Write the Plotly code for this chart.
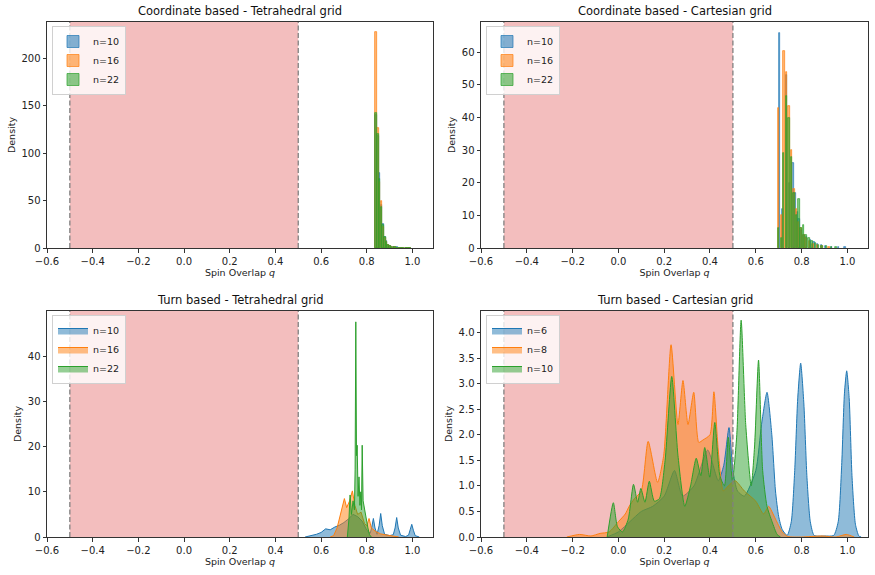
import plotly.graph_objects as go

# ---------------- data ----------------
series_top = ["n=10", "n=16", "n=22"]
series_p4 = ["n=6", "n=8", "n=10"]

# Panel 1: Coordinate based - Tetrahedral grid (histogram, common bins)
p1_bin_centers = [0.8415, 0.849, 0.8565, 0.864, 0.8715, 0.879, 0.8865, 0.894, 0.9015, 0.909,
                  0.9165, 0.924, 0.9315, 0.939, 0.9465, 0.954, 0.9615, 0.969, 0.9765, 0.984, 0.9915]
p1_n10 = [140, 118, 79, 45, 25, 12, 7, 3.5, 2, 1.5, 1, 0.8, 0.6, 0.5, 0.4, 0.3, 0.3, 0.2, 0.2, 0.1, 0.1]
p1_n16 = [227, 126, 70, 49, 22, 11, 6, 3, 1.8, 1.2, 0.8, 0.6, 0.5, 0.4, 0.3, 0.2, 0.2, 0.1, 0.1, 0.1, 0]
p1_n22 = [142, 120, 73, 43, 24, 12, 6.5, 3.2, 1.6, 1.2, 0.8, 0.6, 0.5, 0.4, 0.3, 0.2, 0.2, 0.1, 0.1, 0.1, 0.1]

# Panel 2: Coordinate based - Cartesian grid (histogram)
p2_n10_q = [0.703, 0.717, 0.733, 0.748, 0.762, 0.771, 0.781, 0.789, 0.800, 0.810, 0.822, 0.838,
            0.854, 0.870, 0.886, 0.905, 0.930, 0.960, 0.990]
p2_n10 = [66, 12, 53, 20, 26, 17, 11, 9, 5.5, 4, 3.5, 2.5, 1.8, 1.2, 0.8, 0.6, 0.4, 0.3, 0.2]
p2_n16_q = [0.700, 0.712, 0.723, 0.735, 0.745, 0.756, 0.766, 0.777, 0.787, 0.798, 0.810, 0.820,
            0.835, 0.850, 0.870, 0.890, 0.920]
p2_n16 = [43, 10, 60.5, 54, 43.5, 30, 18, 12, 8, 6, 4, 3, 2, 1.2, 0.8, 0.5, 0.3]
p2_n22_q = [0.700, 0.711, 0.722, 0.733, 0.745, 0.756, 0.766, 0.777, 0.788, 0.798, 0.808, 0.820,
            0.832, 0.845, 0.860, 0.875, 0.890, 0.910, 0.930, 0.950]
p2_n22 = [6, 3, 29, 46.6, 40, 28, 17, 10, 15, 6, 7, 4, 3, 2, 1.5, 1, 0.7, 0.5, 0.3, 0.2]

# Panel 3: Turn based - Tetrahedral grid (KDE)
p3_n10_q = [0.53, 0.56, 0.58, 0.60, 0.62, 0.64, 0.66, 0.68, 0.70, 0.72, 0.74, 0.76, 0.78, 0.80,
            0.815, 0.822, 0.829, 0.836, 0.845, 0.854, 0.861, 0.868, 0.878, 0.90, 0.916, 0.924,
            0.931, 0.938, 0.948, 0.97, 0.983, 0.990, 0.997, 1.004, 1.012, 1.03]
p3_n10 = [0, 0.3, 0.6, 1.0, 1.8, 1.6, 2.2, 2.6, 3.2, 4.0, 5.0, 4.5, 3.5, 1.5,
          0.8, 2.2, 4.1, 2.0, 0.6, 2.5, 5.2, 2.5, 0.6, 0.3, 0.5, 2.0,
          4.3, 2.0, 0.4, 0.1, 0.4, 1.6, 2.8, 1.5, 0.3, 0]
p3_n16_q = [0.64, 0.655, 0.67, 0.685, 0.702, 0.712, 0.725, 0.737, 0.748, 0.76, 0.775, 0.79, 0.80,
            0.81, 0.82, 0.84, 0.86, 0.88, 0.90, 0.92, 0.94]
p3_n16 = [0, 0.3, 2.0, 5.0, 8.5, 6.5, 8.0, 10.2, 7.0, 5.0, 5.5, 3.0, 2.5,
          4.1, 2.0, 1.2, 0.7, 0.5, 0.3, 0.1, 0]
p3_n22_q = [0.715, 0.722, 0.727, 0.733, 0.74, 0.746, 0.749, 0.752, 0.755, 0.758, 0.762, 0.766,
            0.77, 0.774, 0.777, 0.78, 0.784, 0.79, 0.797, 0.805, 0.812, 0.82]
p3_n22 = [0, 4, 9.3, 5, 8, 6, 15, 47.6, 18, 20.3, 9, 13.3,
          7, 10, 6, 20.3, 8, 6, 4, 2, 0.5, 0]

# Panel 4: Turn based - Cartesian grid (KDE)
p4_n6_q = [-0.05, 0.0, 0.05, 0.10, 0.15, 0.20, 0.245, 0.28, 0.33, 0.39, 0.436, 0.46, 0.483, 0.50,
           0.52, 0.55, 0.60, 0.625, 0.649, 0.67, 0.686, 0.70, 0.715, 0.737, 0.755, 0.77, 0.783,
           0.796, 0.81, 0.823, 0.838, 0.855, 0.90, 0.94, 0.96, 0.975, 0.987, 0.997, 1.008, 1.02,
           1.035, 1.05, 1.06]
p4_n6 = [0, 0.1, 0.3, 0.5, 0.6, 0.8, 1.3, 0.8, 1.0, 1.7, 1.1, 1.4, 2.14, 1.3,
         0.9, 0.8, 1.3, 2.2, 2.83, 2.0, 0.9, 0.4, 0.15, 0.03, 0.3, 1.3, 2.7,
         3.4, 2.6, 1.2, 0.3, 0.03, 0.02, 0.03, 0.3, 1.4, 2.8, 3.25, 2.7, 1.2,
         0.25, 0.02, 0]
p4_n8_q = [-0.225, -0.17, -0.12, -0.08, -0.04, 0.0, 0.03, 0.047, 0.07, 0.10, 0.13, 0.171, 0.198,
           0.23, 0.26, 0.282, 0.304, 0.329, 0.351, 0.37, 0.40, 0.417, 0.436, 0.458, 0.48, 0.51,
           0.55, 0.60, 0.634, 0.656, 0.686, 0.715, 0.74, 0.80, 0.89, 0.95, 0.995, 1.03]
p4_n8 = [0, 0.05, 0.02, 0.07, 0.1, 0.3, 0.45, 0.6, 0.75, 0.9, 1.87, 1.07, 1.6,
         3.76, 2.2, 3.06, 2.2, 2.83, 1.85, 1.9, 2.0, 2.84, 1.7, 0.9, 1.0, 1.1,
         0.9, 0.7, 0.45, 0.6, 0.35, 0.1, 0.01, 0, 0.02, 0, 0.05, 0]
p4_n10_q = [-0.049, -0.022, -0.004, 0.018, 0.043, 0.066, 0.084, 0.098, 0.116, 0.135, 0.157, 0.179,
            0.204, 0.233, 0.26, 0.29, 0.315, 0.34, 0.36, 0.377, 0.399, 0.421, 0.443, 0.463, 0.48,
            0.498, 0.517, 0.536, 0.556, 0.58, 0.595, 0.612, 0.63, 0.649, 0.671, 0.693, 0.708]
p4_n10 = [0, 0.67, 0.2, 0.1, 0.35, 1.03, 0.68, 0.95, 0.68, 1.09, 0.7, 0.75,
          1.5, 3.14, 1.6, 0.6, 1.0, 1.54, 1.2, 1.75, 1.17, 2.24, 1.2, 1.0, 1.95,
          1.1, 2.0, 4.24, 2.2, 1.0, 1.8, 3.46, 1.3, 0.6, 0.3, 0.05, 0]

x_ticks = [-0.6, -0.4, -0.2, 0.0, 0.2, 0.4, 0.6, 0.8, 1.0]
x_ticktext = ["\u22120.6", "\u22120.4", "\u22120.2", "0.0", "0.2", "0.4", "0.6", "0.8", "1.0"]
titles = ["Coordinate based - Tetrahedral grid", "Coordinate based - Cartesian grid",
          "Turn based - Tetrahedral grid", "Turn based - Cartesian grid"]

# ---------------- style ----------------
W, H = 875, 575
COLORS = ["#1f77b4", "#ff7f0e", "#2ca02c"]
FONT = "DejaVu Sans"


def rgba(hexc, a):
    h = hexc.lstrip("#")
    r, g, b = int(h[0:2], 16), int(h[2:4], 16), int(h[4:6], 16)
    return f"rgba({r},{g},{b},{a})"


# pixel boxes (left, right, top, bottom)
boxes = [(47, 433, 22, 248), (481, 868, 22, 248), (47, 433, 311, 537), (481, 868, 311, 537)]
yranges = [[0, 238], [0, 69.3], [0, 50], [0, 4.42]]
yticks = [[0, 50, 100, 150, 200], [0, 10, 20, 30, 40, 50, 60], [0, 10, 20, 30, 40],
          [0, 0.5, 1.0, 1.5, 2.0, 2.5, 3.0, 3.5, 4.0]]
yfmt = ["d", "d", "d", ".1f"]

fig = go.Figure()

legend_names = ["legend", "legend2", "legend3", "legend4"]


def add_bars(qs, vals, name, color, i, width):
    n = i + 1
    fig.add_trace(go.Bar(
        x=qs, y=vals, width=width, name=name,
        marker=dict(color=rgba(color, 0.55), line=dict(color=color, width=0.7)),
        xaxis="x" if n == 1 else f"x{n}", yaxis="y" if n == 1 else f"y{n}",
        legend=legend_names[i], hoverinfo="skip"))


def add_kde(qs, vals, name, color, i, shape):
    n = i + 1
    fig.add_trace(go.Scatter(
        x=qs, y=vals, name=name, mode="lines", fill="tozeroy",
        line=dict(color=color, width=1, shape=shape, smoothing=0.6) if shape == "spline"
        else dict(color=color, width=1, shape=shape),
        fillcolor=rgba(color, 0.5),
        xaxis="x" if n == 1 else f"x{n}", yaxis="y" if n == 1 else f"y{n}",
        legend=legend_names[i], hoverinfo="skip"))


# panel 1
for vals, nm, c in zip([p1_n10, p1_n16, p1_n22], series_top, COLORS):
    add_bars(p1_bin_centers, vals, nm, c, 0, 0.0072)
# panel 2
for qs, vals, nm, c in zip([p2_n10_q, p2_n16_q, p2_n22_q], [p2_n10, p2_n16, p2_n22], series_top, COLORS):
    add_bars(qs, vals, nm, c, 1, 0.0062)
# panel 3
for qs, vals, nm, c in zip([p3_n10_q, p3_n16_q, p3_n22_q], [p3_n10, p3_n16, p3_n22], series_top, COLORS):
    add_kde(qs, vals, nm, c, 2, "linear")
# panel 4
for qs, vals, nm, c in zip([p4_n6_q, p4_n8_q, p4_n10_q], [p4_n6, p4_n8, p4_n10], series_p4, COLORS):
    add_kde(qs, vals, nm, c, 3, "spline")

layout = dict(
    width=W, height=H, margin=dict(l=0, r=0, t=0, b=0, autoexpand=False),
    paper_bgcolor="white", plot_bgcolor="white",
    font=dict(family=FONT, size=10, color="#222"),
    barmode="overlay", bargap=0,
    showlegend=True,
)

shapes = []
annotations = []
for i, (l, r, t, b) in enumerate(boxes):
    n = i + 1
    xs = "" if n == 1 else str(n)
    xd = [l / W, r / W]
    yd = [1 - b / H, 1 - t / H]
    layout[f"xaxis{xs}"] = dict(
        domain=xd, anchor=f"y{xs}", range=[-0.6, 1.09], automargin=False,
        tickvals=x_ticks, ticktext=x_ticktext,
        showline=True, linecolor="#333", linewidth=1, mirror=True,
        ticks="outside", ticklen=3.5, tickwidth=0.8, tickcolor="#333",
        showgrid=False, zeroline=False, tickfont=dict(size=10),
        title=dict(text="Spin Overlap <i>q</i>", font=dict(size=9.5), standoff=3))
    layout[f"yaxis{xs}"] = dict(
        domain=yd, anchor=f"x{xs}", range=yranges[i], automargin=False,
        tickvals=yticks[i], tickformat=yfmt[i],
        showline=True, linecolor="#333", linewidth=1, mirror=True,
        ticks="outside", ticklen=3.5, tickwidth=0.8, tickcolor="#333",
        showgrid=False, zeroline=False, tickfont=dict(size=10),
        title=dict(text="Density", font=dict(size=9.5), standoff=4))
    xref = f"x{xs}"
    ydom = f"y{xs} domain"
    shapes.append(dict(type="rect", xref=xref, yref=ydom, x0=-0.5, x1=0.5, y0=0, y1=1,
                       fillcolor="rgba(214,39,40,0.3)", line=dict(width=0), layer="below"))
    for xv in (-0.5, 0.5):
        shapes.append(dict(type="line", xref=xref, yref=ydom, x0=xv, x1=xv, y0=0, y1=1,
                           line=dict(color="#808080", width=1.3, dash="5px,2.5px"), layer="above"))
    annotations.append(dict(text=titles[i], xref="paper", yref="paper",
                            x=(xd[0] + xd[1]) / 2, y=yd[1], xanchor="center", yanchor="bottom",
                            yshift=2, showarrow=False, font=dict(size=11.5, color="#111")))
    layout[legend_names[i]] = dict(
        x=(l + 5) / W, y=1 - (t + 4) / H, xanchor="left", yanchor="top",
        xref="paper", yref="paper",
        bgcolor="rgba(255,255,255,0.8)", bordercolor="#d0d0d0", borderwidth=1,
        font=dict(size=9.5), traceorder="normal", itemwidth=30, tracegroupgap=0)

layout["shapes"] = shapes
layout["annotations"] = annotations
fig.update_layout(**layout)

fig.write_html("out.html")
